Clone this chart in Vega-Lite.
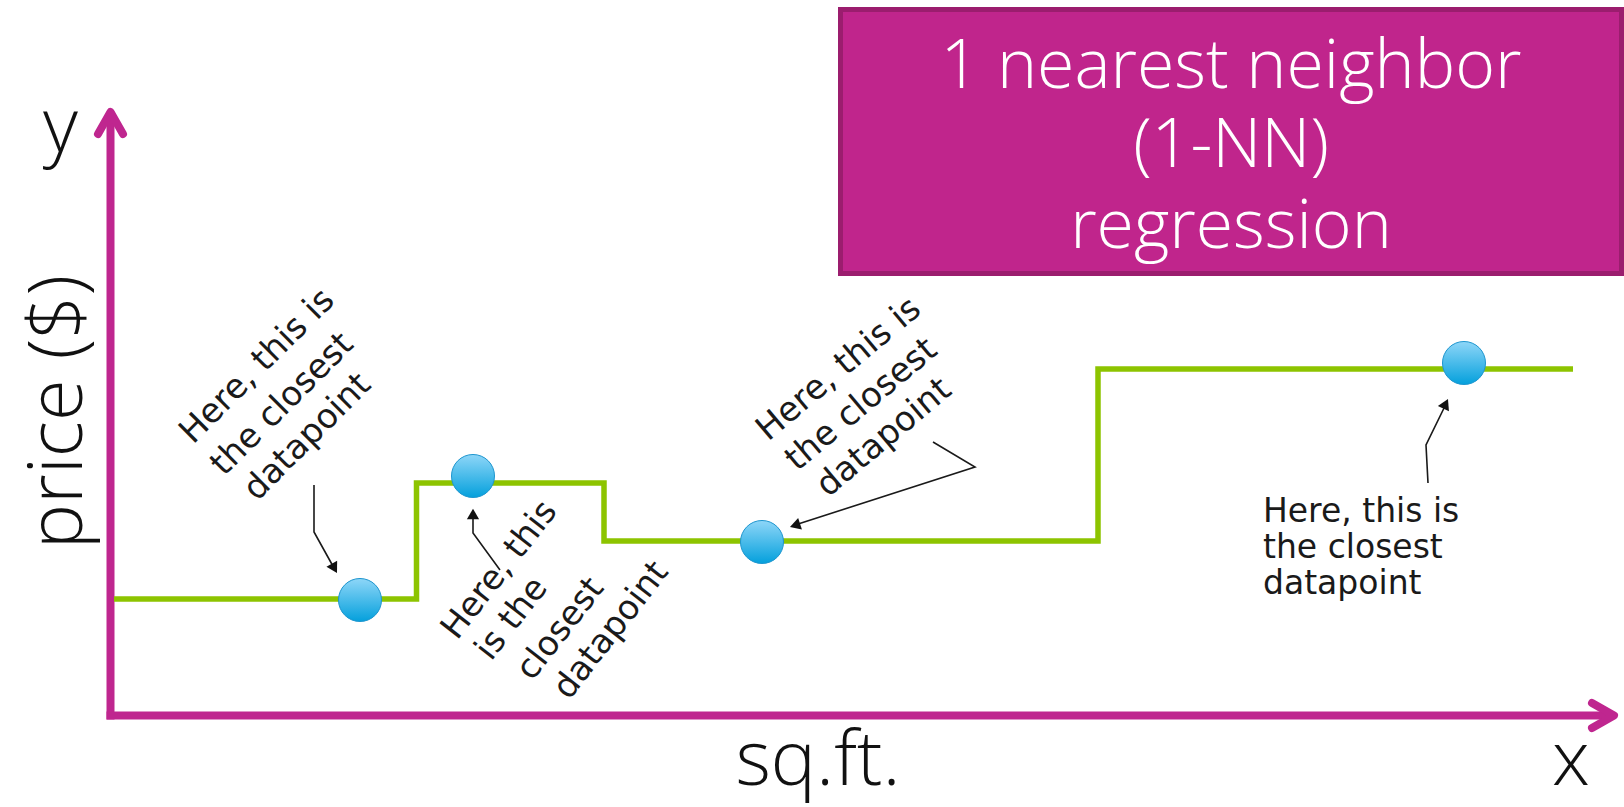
{
  "$schema": "https://vega.github.io/schema/vega-lite/v6.json",
  "width": 1624,
  "height": 807,
  "autosize": {"type": "none"},
  "padding": 0,
  "background": "white",
  "config": {"view": {"stroke": null}},
  "datasets": {
    "axes": [
      {"id": "y", "i": 0, "x": 110.5, "y": 719.5},
      {"id": "y", "i": 1, "x": 110.5, "y": 113},
      {"id": "x", "i": 0, "x": 106.5, "y": 715.5},
      {"id": "x", "i": 1, "x": 1613, "y": 715.5}
    ],
    "chevrons": [
      {"id": "y", "i": 0, "x": 98, "y": 134},
      {"id": "y", "i": 1, "x": 110.5, "y": 112},
      {"id": "y", "i": 2, "x": 123, "y": 134},
      {"id": "x", "i": 0, "x": 1592, "y": 703},
      {"id": "x", "i": 1, "x": 1614, "y": 715.5},
      {"id": "x", "i": 2, "x": 1592, "y": 728}
    ],
    "knn": [
      {"sqft": 114, "price": 599},
      {"sqft": 416.5, "price": 483},
      {"sqft": 604, "price": 541},
      {"sqft": 1098, "price": 369},
      {"sqft": 1573, "price": 369}
    ],
    "points": [
      {"sqft": 360, "price": 600},
      {"sqft": 473, "price": 476},
      {"sqft": 762, "price": 542},
      {"sqft": 1464, "price": 363}
    ],
    "arrows": [
      {"id": 1, "i": 0, "x": 314, "y": 485},
      {"id": 1, "i": 1, "x": 314, "y": 532},
      {"id": 1, "i": 2, "x": 334, "y": 568},
      {"id": 2, "i": 0, "x": 500, "y": 570},
      {"id": 2, "i": 1, "x": 473, "y": 533},
      {"id": 2, "i": 2, "x": 473, "y": 514},
      {"id": 3, "i": 0, "x": 933, "y": 442},
      {"id": 3, "i": 1, "x": 975, "y": 467},
      {"id": 3, "i": 2, "x": 795, "y": 525},
      {"id": 4, "i": 0, "x": 1428, "y": 483},
      {"id": 4, "i": 1, "x": 1426, "y": 445},
      {"id": 4, "i": 2, "x": 1446, "y": 404}
    ],
    "heads": [
      {"id": 1, "x": 334.4, "y": 568.4, "dir": 150.7},
      {"id": 2, "x": 473, "y": 514, "dir": 0},
      {"id": 3, "x": 795, "y": 525.4, "dir": -108},
      {"id": 4, "x": 1445.7, "y": 403.8, "dir": 25.5}
    ],
    "box": [{"x": 840.5, "y": 9.5, "x2": 1621.5, "y2": 273.5}],
    "title": [
      {"t": "1 nearest neighbor", "x": 1231, "y": 88},
      {"t": "(1-NN)", "x": 1231, "y": 167},
      {"t": "regression", "x": 1231, "y": 248}
    ],
    "ann1": [
      {"t": "Here, this is", "x": 193, "y": 445},
      {"t": "the closest", "x": 224, "y": 477},
      {"t": "datapoint", "x": 257, "y": 502}
    ],
    "ann2": [
      {"t": "Here, this", "x": 457, "y": 641},
      {"t": "is the", "x": 491, "y": 662},
      {"t": "closest", "x": 532, "y": 682},
      {"t": "datapoint", "x": 569, "y": 701}
    ],
    "ann3": [
      {"t": "Here, this is", "x": 768, "y": 442},
      {"t": "the closest", "x": 797, "y": 472},
      {"t": "datapoint", "x": 828, "y": 498}
    ],
    "ann4": [
      {"t": "Here, this is", "x": 1263, "y": 522},
      {"t": "the closest", "x": 1263, "y": 558},
      {"t": "datapoint", "x": 1263, "y": 594}
    ]
  },
  "resolve": {"scale": {"x": "shared", "y": "shared"}},
  "layer": [
    {
      "data": {"name": "box"},
      "mark": {"type": "rect", "fill": "#C0258C", "stroke": "#9B1D6E", "strokeWidth": 5},
      "encoding": {
        "x": {"field": "x", "type": "quantitative", "scale": {"domain": [0, 1624], "nice": false, "zero": false}, "axis": null},
        "x2": {"field": "x2"},
        "y": {"field": "y", "type": "quantitative", "scale": {"domain": [0, 807], "nice": false, "zero": false, "reverse": true}, "axis": null},
        "y2": {"field": "y2"}
      }
    },
    {
      "data": {"name": "title"},
      "mark": {"type": "text", "font": "Open Sans", "fontSize": 68, "fontWeight": 300, "fill": "white", "align": "center", "baseline": "alphabetic"},
      "encoding": {
        "x": {"field": "x", "type": "quantitative"},
        "y": {"field": "y", "type": "quantitative"},
        "text": {"field": "t"}
      }
    },
    {
      "data": {"name": "axes"},
      "mark": {"type": "line", "stroke": "#BF268F", "strokeWidth": 8, "strokeCap": "butt"},
      "encoding": {
        "x": {"field": "x", "type": "quantitative"},
        "y": {"field": "y", "type": "quantitative"},
        "detail": {"field": "id"},
        "order": {"field": "i"}
      }
    },
    {
      "data": {"name": "chevrons"},
      "mark": {"type": "line", "stroke": "#BF268F", "strokeWidth": 8, "strokeCap": "round", "strokeJoin": "round"},
      "encoding": {
        "x": {"field": "x", "type": "quantitative"},
        "y": {"field": "y", "type": "quantitative"},
        "detail": {"field": "id"},
        "order": {"field": "i"}
      }
    },
    {
      "data": {"name": "knn"},
      "mark": {"type": "line", "stroke": "#8DC400", "strokeWidth": 5.5, "interpolate": "step-after", "strokeCap": "butt"},
      "encoding": {
        "x": {"field": "sqft", "type": "quantitative"},
        "y": {"field": "price", "type": "quantitative"}
      }
    },
    {
      "data": {"name": "arrows"},
      "mark": {"type": "line", "stroke": "#1a1a1a", "strokeWidth": 1.6},
      "encoding": {
        "x": {"field": "x", "type": "quantitative"},
        "y": {"field": "y", "type": "quantitative"},
        "detail": {"field": "id"},
        "order": {"field": "i"}
      }
    },
    {
      "data": {"name": "heads"},
      "mark": {"type": "point", "shape": "triangle-up", "filled": true, "fill": "#111111", "size": 150, "opacity": 1},
      "encoding": {
        "x": {"field": "x", "type": "quantitative"},
        "y": {"field": "y", "type": "quantitative"},
        "angle": {"field": "dir", "type": "quantitative", "scale": null}
      }
    },
    {
      "data": {"name": "points"},
      "mark": {
        "type": "point", "shape": "circle", "filled": true, "size": 1850, "opacity": 1,
        "stroke": "#1E96CF", "strokeWidth": 1,
        "fill": {"gradient": "linear", "x1": 0, "y1": 0, "x2": 0, "y2": 1,
          "stops": [{"offset": 0, "color": "#8ED6F8"}, {"offset": 1, "color": "#04A0DC"}]}
      },
      "encoding": {
        "x": {"field": "sqft", "type": "quantitative"},
        "y": {"field": "price", "type": "quantitative"}
      }
    },
    {
      "data": {"name": "ann1"},
      "mark": {"type": "text", "font": "DejaVu Sans", "fontSize": 34, "fill": "#1a1a1a", "align": "left", "baseline": "alphabetic", "angle": -45},
      "encoding": {
        "x": {"field": "x", "type": "quantitative"},
        "y": {"field": "y", "type": "quantitative"},
        "text": {"field": "t"}
      }
    },
    {
      "data": {"name": "ann2"},
      "mark": {"type": "text", "font": "DejaVu Sans", "fontSize": 34, "fill": "#1a1a1a", "align": "left", "baseline": "alphabetic", "angle": -52},
      "encoding": {
        "x": {"field": "x", "type": "quantitative"},
        "y": {"field": "y", "type": "quantitative"},
        "text": {"field": "t"}
      }
    },
    {
      "data": {"name": "ann3"},
      "mark": {"type": "text", "font": "DejaVu Sans", "fontSize": 34, "fill": "#1a1a1a", "align": "left", "baseline": "alphabetic", "angle": -40},
      "encoding": {
        "x": {"field": "x", "type": "quantitative"},
        "y": {"field": "y", "type": "quantitative"},
        "text": {"field": "t"}
      }
    },
    {
      "data": {"name": "ann4"},
      "mark": {"type": "text", "font": "DejaVu Sans", "fontSize": 33, "fill": "#1a1a1a", "align": "left", "baseline": "alphabetic"},
      "encoding": {
        "x": {"field": "x", "type": "quantitative"},
        "y": {"field": "y", "type": "quantitative"},
        "text": {"field": "t"}
      }
    },
    {
      "data": {"values": [
        {"t": "y", "x": 43, "y": 152, "al": "left"},
        {"t": "sq.ft.", "x": 818, "y": 785, "al": "center"},
        {"t": "x", "x": 1571, "y": 785, "al": "center"}
      ]},
      "mark": {"type": "text", "font": "Open Sans", "fontSize": 76, "fontWeight": 300, "fill": "#111111", "baseline": "alphabetic", "align": {"expr": "datum.al"}},
      "encoding": {
        "x": {"field": "x", "type": "quantitative"},
        "y": {"field": "y", "type": "quantitative"},
        "text": {"field": "t"}
      }
    },
    {
      "data": {"values": [{"t": "price ($)", "x": 82, "y": 412}]},
      "mark": {"type": "text", "font": "Open Sans", "fontSize": 76, "fontWeight": 300, "fill": "#111111", "baseline": "alphabetic", "align": "center", "angle": -90},
      "encoding": {
        "x": {"field": "x", "type": "quantitative"},
        "y": {"field": "y", "type": "quantitative"},
        "text": {"field": "t"}
      }
    }
  ]
}
